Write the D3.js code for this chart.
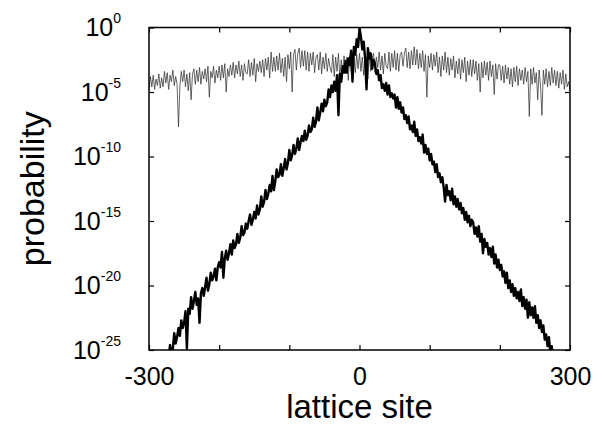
<!DOCTYPE html>
<html>
<head>
<meta charset="utf-8">
<script src="https://cdn.jsdelivr.net/npm/d3@7"></script>
<style>
  body { margin: 0; background: #fff; }
  svg { font-family: "Liberation Sans", Arial, Helvetica, sans-serif; }
  .axis line { stroke: #000; stroke-width: 1.2; }
  .axis path { display: none; }
</style>
</head>
<body>
<div id="chart"></div>
<script>
// lattice sites (every second site is plotted)
const sites = d3.range(-300, 301, 2);

// log10 of the probability, extended state (thin line)
const logExtended = [
  -4.9, -3.8, -4.6, -3.7, -4.8, -4.0, -4.5, -3.6, -4.7, -3.9,
  -4.6, -3.4, -4.3, -3.5, -4.8, -3.7, -4.2, -3.3, -4.5, -3.8,
  -4.4, -7.7, -4.6, -3.4, -4.2, -3.3, -4.6, -3.6, -4.9, -3.5,
  -5.6, -3.6, -3.2, -4.4, -3.3, -4.2, -3.1, -4.4, -3.4, -4.0,
  -3.2, -4.2, -3.0, -5.4, -3.4, -3.9, -3.0, -4.3, -3.3, -3.9,
  -3.0, -4.1, -2.9, -3.9, -2.8, -5.0, -3.2, -3.8, -2.9, -3.7,
  -2.7, -3.9, -2.9, -3.6, -2.6, -3.8, -2.9, -4.1, -2.8, -3.5,
  -3.6, -2.5, -3.8, -2.7, -3.7, -2.4, -4.2, -2.8, -3.4, -2.6,
  -3.5, -2.5, -3.8, -2.4, -3.3, -2.3, -3.9, -1.9, -3.4, -2.3,
  -3.4, -2.2, -3.3, -2.0, -3.5, -2.4, -3.8, -2.3, -4.2, -2.1,
  -3.2, -1.9, -5.0, -2.1, -1.7, -3.3, -2.0, -1.6, -3.1, -1.8,
  -3.0, -1.8, -3.3, -1.9, -3.4, -2.0, -2.9, -1.9, -3.5, -2.3,
  -2.1, -3.3, -1.9, -3.6, -2.3, -3.2, -2.0, -3.4, -2.4, -3.1,
  -3.5, -2.1, -3.8, -2.3, -3.4, -2.0, -3.9, -2.5, -3.5, -2.2,
  -3.6, -2.3, -4.1, -2.2, -3.3, -3.9, -2.3, -3.5, -2.1, -3.2,
  -2.0, -3.4, -2.3, -3.7, -2.2, -3.3, -4.0, -2.1, -3.4, -2.4,
  -2.0, -3.5, -2.3, -3.1, -1.9, -3.3, -2.2, -3.6, -2.0, -3.0,
  -3.2, -1.9, -3.4, -2.0, -3.1, -1.8, -3.3, -2.0, -3.4, -2.1,
  -1.9, -3.0, -2.0, -1.6, -3.1, -1.9, -3.2, -1.8, -2.9, -1.5,
  -2.9, -1.7, -3.2, -2.0, -3.1, -1.8, -3.4, -2.1, -5.4, -2.2,
  -3.1, -2.0, -3.3, -2.1, -3.0, -1.9, -3.5, -2.3, -3.8, -2.2,
  -3.3, -1.9, -3.5, -2.3, -3.7, -2.4, -3.3, -2.2, -3.9, -2.6,
  -3.6, -2.4, -4.0, -2.5, -3.5, -2.3, -4.2, -2.6, -3.7, -2.5,
  -3.8, -2.5, -3.6, -2.6, -4.1, -2.8, -5.0, -2.7, -3.9, -2.6,
  -3.7, -2.7, -4.1, -2.6, -3.8, -2.9, -5.2, -2.8, -4.0, -2.9,
  -2.9, -4.1, -3.0, -4.3, -2.9, -4.0, -3.1, -4.4, -3.2, -4.6,
  -3.1, -4.2, -3.0, -4.5, -3.2, -4.1, -3.3, -4.4, -3.1, -4.2,
  -3.4, -6.9, -3.2, -4.4, -3.1, -4.3, -3.5, -5.6, -3.3, -4.5,
  -6.8, -3.3, -4.4, -3.2, -4.6, -3.4, -4.5, -3.1, -4.3, -3.3,
  -4.5, -3.4, -4.7, -3.5, -4.4, -3.3, -4.8, -3.6, -4.6, -4.2,
  -4.9
];

// log10 of the probability, localized state (thick line)
const logLocalized = [
  -27.6, -28.1, -27.9, -27.0, -27.6, -26.8, -26.9, -27.5, -26.1, -26.5,
  -25.8, -26.3, -25.2, -25.6, -25.5, -24.6, -25.3, -24.9, -23.7, -24.5,
  -24.0, -23.3, -23.9, -22.7, -23.3, -22.9, -22.0, -24.9, -21.8, -22.2,
  -20.9, -21.8, -21.2, -20.5, -21.5, -21.0, -22.9, -20.6, -20.2, -20.8,
  -20.1, -19.4, -20.4, -19.9, -19.0, -19.6, -19.3, -18.7, -19.6, -18.6,
  -18.2, -18.6, -17.4, -19.4, -17.9, -17.3, -18.0, -17.5, -16.8, -17.6,
  -16.5, -17.1, -16.8, -16.0, -16.7, -16.3, -15.4, -16.1, -15.9, -15.2,
  -15.6, -15.0, -14.5, -15.3, -14.9, -14.3, -14.8, -13.8, -14.5, -14.1,
  -13.1, -13.9, -13.5, -12.6, -13.3, -12.9, -12.2, -12.7, -11.5, -12.6,
  -11.9, -11.0, -11.6, -11.4, -10.6, -11.5, -10.9, -10.2, -11.0, -10.5,
  -9.5, -10.3, -9.9, -9.1, -9.8, -9.4, -8.6, -9.5, -8.9, -8.4,
  -8.8, -8.0, -8.7, -8.4, -7.6, -8.1, -7.9, -7.0, -7.7, -7.3,
  -6.2, -7.2, -6.6, -5.9, -6.5, -5.6, -6.1, -5.8, -4.8, -5.4,
  -4.5, -5.0, -4.2, -4.9, -3.7, -6.8, -3.6, -4.2, -3.0, -3.5,
  -2.6, -3.5, -2.4, -2.9, -1.8, -4.2, -1.5, -2.1, -0.9, -1.5,
  -0.05,
  -0.7, -1.7, -1.1, -2.4, -4.8, -1.6, -2.4, -2.0, -3.2, -2.5,
  -2.8, -3.6, -3.3, -4.1, -3.7, -4.7, -4.4, -4.9, -4.3, -5.2,
  -4.5, -5.4, -5.1, -5.5, -5.2, -6.2, -5.4, -6.3, -5.8, -6.6,
  -6.2, -7.1, -6.8, -7.4, -6.9, -7.9, -7.6, -8.1, -7.3, -8.4,
  -7.9, -8.8, -8.5, -9.0, -8.3, -9.7, -9.1, -9.8, -9.4, -10.3,
  -9.8, -10.6, -10.4, -11.2, -10.6, -11.6, -11.3, -12.0, -11.6, -12.4,
  -13.5, -12.2, -13.0, -12.7, -13.4, -12.5, -13.7, -13.1, -13.9, -13.3,
  -14.1, -13.6, -14.4, -14.0, -14.9, -14.3, -15.1, -14.6, -15.4, -14.9,
  -15.1, -16.0, -15.5, -16.2, -15.4, -16.6, -16.0, -17.5, -16.4, -17.0,
  -16.7, -17.6, -17.1, -17.8, -17.0, -18.3, -17.6, -18.6, -18.0, -18.8,
  -18.4, -19.3, -18.9, -19.8, -19.0, -20.2, -19.6, -20.5, -19.9, -20.8,
  -20.2, -21.0, -20.5, -21.2, -20.3, -21.6, -20.9, -21.8, -21.1, -22.5,
  -21.3, -22.3, -21.7, -22.5, -21.6, -22.9, -22.3, -23.3, -22.7, -23.6,
  -23.1, -24.2, -23.8, -24.7, -24.0, -25.3, -24.7, -25.8, -25.2, -26.2,
  -25.6, -26.5, -26.1, -27.0, -26.3, -27.4, -26.8, -27.8, -27.2, -28.2
];

// axis ticks
const xTicks = [-300, -200, -100, 0, 100, 200, 300];
const xLabelled = [-300, 0, 300];
const yExponents = [0, -5, -10, -15, -20, -25];

class ProbabilityChart {
    constructor(_config) {
        this.config = {
            parentElement: _config.parentElement,
            containerWidth: _config.containerWidth || 602,
            containerHeight: _config.containerHeight || 424,
            margin: _config.margin || {top: 27.5, right: 32, bottom: 74, left: 149}
        };
        this.initVis();
    }

    initVis() {
        let vis = this;

        vis.width = vis.config.containerWidth - vis.config.margin.left - vis.config.margin.right;
        vis.height = vis.config.containerHeight - vis.config.margin.top - vis.config.margin.bottom;

        vis.svg = d3.select(vis.config.parentElement)
            .append('svg')
            .attr('width', vis.config.containerWidth)
            .attr('height', vis.config.containerHeight);

        vis.chart = vis.svg.append('g')
            .attr('transform', `translate(${vis.config.margin.left},${vis.config.margin.top})`);

        vis.xScale = d3.scaleLinear()
            .domain([-300, 300])
            .range([0, vis.width]);

        vis.yScale = d3.scaleLog()
            .domain([1e-25, 1])
            .range([vis.height, 0]);

        vis.chart.append('clipPath')
            .attr('id', 'plot-clip')
          .append('rect')
            .attr('width', vis.width)
            .attr('height', vis.height);

        vis.renderVis();
    }

    renderVis() {
        let vis = this;

        const line = d3.line()
            .x((d, i) => vis.xScale(sites[i]))
            .y(d => vis.yScale(Math.pow(10, d)));

        const lines = vis.chart.append('g').attr('clip-path', 'url(#plot-clip)');

        lines.append('path')
            .datum(logExtended)
            .attr('fill', 'none')
            .attr('stroke', '#333')
            .attr('stroke-width', 0.75)
            .attr('d', line);

        lines.append('path')
            .datum(logLocalized)
            .attr('fill', 'none')
            .attr('stroke', '#000')
            .attr('stroke-width', 2.4)
            .attr('stroke-linejoin', 'round')
            .attr('d', line);

        // inward ticks on all four sides
        const yTickVals = yExponents.map(e => Math.pow(10, e));

        vis.chart.append('g')
            .attr('class', 'axis x-axis')
            .attr('transform', `translate(0,${vis.height})`)
            .call(d3.axisBottom(vis.xScale)
                .tickValues(xTicks)
                .tickSize(-5)
                .tickPadding(17)
                .tickFormat(d => xLabelled.includes(d) ? String(d) : ''))
            .selectAll('text')
            .attr('font-size', 25)
            .attr('font-family', '"Liberation Sans", Arial, sans-serif')
            .attr('fill', '#000');

        vis.chart.append('g')
            .attr('class', 'axis')
            .call(d3.axisTop(vis.xScale).tickValues(xTicks).tickSize(-5).tickFormat(''));

        vis.chart.append('g')
            .attr('class', 'axis y-axis')
            .call(d3.axisLeft(vis.yScale).tickValues(yTickVals).tickSize(-5).tickFormat(''));

        vis.chart.append('g')
            .attr('class', 'axis')
            .attr('transform', `translate(${vis.width},0)`)
            .call(d3.axisRight(vis.yScale).tickValues(yTickVals).tickSize(-5).tickFormat(''));

        // y tick labels as 10 with superscript exponent
        const yLabels = vis.chart.selectAll('.y-label')
            .data(yExponents)
            .join('text')
            .attr('class', 'y-label')
            .attr('x', -28)
            .attr('y', d => vis.yScale(Math.pow(10, d)) + 8.5)
            .attr('text-anchor', 'end')
            .attr('fill', '#000');
        yLabels.append('tspan')
            .attr('font-size', 25)
            .text('10');
        yLabels.append('tspan')
            .attr('font-size', 14)
            .attr('dy', -13)
            .text(d => String(d));

        // frame
        vis.chart.append('rect')
            .attr('width', vis.width)
            .attr('height', vis.height)
            .attr('fill', 'none')
            .attr('stroke', '#000')
            .attr('stroke-width', 1.5);

        // axis titles
        vis.svg.append('text')
            .attr('x', vis.config.margin.left + vis.width / 2)
            .attr('y', 418)
            .attr('text-anchor', 'middle')
            .attr('font-size', 33)
            .text('lattice site');

        vis.svg.append('text')
            .attr('transform', `translate(44,${vis.config.margin.top + vis.height / 2}) rotate(-90)`)
            .attr('text-anchor', 'middle')
            .attr('font-size', 34)
            .text('probability');
    }
}

new ProbabilityChart({parentElement: '#chart'});
</script>
</body>
</html>
